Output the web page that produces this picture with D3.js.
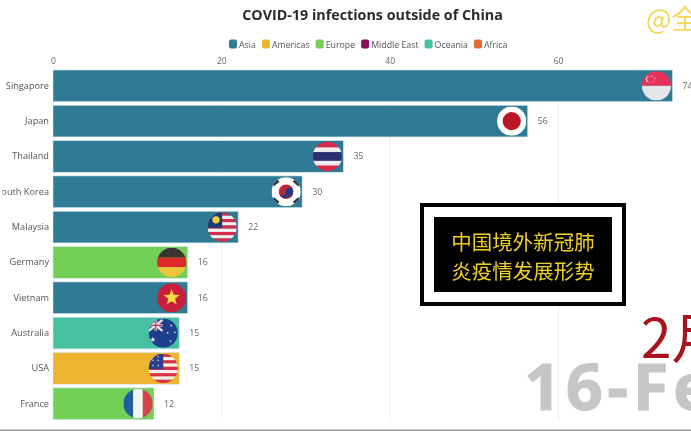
<!DOCTYPE html>
<html>
<head>
<meta charset="utf-8">
<script src="https://cdn.jsdelivr.net/npm/d3@7"></script>
<style>
html,body{margin:0;padding:0;background:#fff;overflow:hidden}
svg{display:block;filter:blur(.35px)}
text{font-family:"Open Sans",sans-serif}
.cjk{font-family:"Noto Sans CJK SC",sans-serif}
</style>
</head>
<body>
<div id="chart"></div>
<script>
// values of the frame (bars are caught mid animation, labels are rounded)
var countries = ["Singapore","Japan","Thailand","South Korea","Malaysia","Germany","Vietnam","Australia","USA","France"];
var regionOf = ["Asia","Asia","Asia","Asia","Asia","Europe","Asia","Oceania","Americas","Europe"];
var values = [73.6,56.4,34.5,29.6,22,16,16,15,15,12];
var xTicks = [0,20,40,60];
var regions = ["Asia","Americas","Europe","Middle East","Oceania","Africa"];
var regionColors = ["#2f7a95","#ecb42f","#73cf56","#8c0f58","#46c1a1","#e2692d"];
var titleText = "COVID-19 infections outside of China";
var boxLines = ["中国境外新冠肺","炎疫情发展形势"];

var margin = {top: 70, right: 19, bottom: 12, left: 53},
    width = 691,
    height = 431;

var x = d3.scaleLinear().domain([0,60]).range([margin.left,558]);
var y = d3.scaleBand().domain(countries).range([margin.top,height-margin.bottom+.5]).paddingInner(0.105).paddingOuter(0);
var color = d3.scaleOrdinal().domain(regions).range(regionColors);

var svg = d3.select("#chart").append("svg").attr("width",width).attr("height",height);
var defs = svg.append("defs");

//title
svg.append("text").attr("x",372.5).attr("y",19.5).attr("text-anchor","middle")
    .style("font-size","14.3px").style("font-weight",700).attr("fill","#2b2b2b").text(titleText);

//legend, laid out from the measured text
var lx = 229;
regions.forEach(function(r){
    svg.append("rect").attr("x",lx).attr("y",39.5).attr("width",8).attr("height",9).attr("rx",2).attr("fill",color(r));
    var t = svg.append("text").attr("x",lx+10).attr("y",47.5).style("font-size","8.8px").attr("fill","#555").text(r);
    lx += 10 + t.node().getComputedTextLength() + 6;
});

//grid and ticks
var xAxis = d3.axisTop(x).tickValues(xTicks).tickSize(-(height-margin.bottom-margin.top)).tickPadding(5).tickFormat(d3.format("d"));
var axis = svg.append("g").attr("transform","translate(0,"+margin.top+")").call(xAxis);
axis.select(".domain").remove();
axis.selectAll("line").attr("stroke","#eeeef0").attr("stroke-width",1);
axis.selectAll("text").attr("y",-6).attr("fill","#666").style("font-size","8.5px");

//bars
svg.selectAll(".bar").data(countries).enter().append("rect")
    .attr("class","bar")
    .attr("x",x(0))
    .attr("y",function(d){return y(d);})
    .attr("width",function(d,i){return x(values[i])-x(0);})
    .attr("height",y.bandwidth())
    .attr("fill",function(d,i){return color(regionOf[i]);})
    .attr("stroke","#cfe6ea").attr("stroke-width",.6);

//country names, the video crop cuts the left edge
defs.append("clipPath").attr("id","nameclip").append("rect")
    .attr("x",2.5).attr("y",0).attr("width",60).attr("height",height);
svg.append("g").attr("clip-path","url(#nameclip)")
    .selectAll(".name").data(countries).enter().append("text")
    .attr("class","name").attr("x",49)
    .attr("y",function(d){return y(d)+y.bandwidth()/2+3;})
    .attr("text-anchor","end").style("font-size","9.2px").attr("fill","#555")
    .text(function(d){return d;});

//value labels
svg.selectAll(".val").data(values).enter().append("text")
    .attr("class","val")
    .attr("x",function(d){return x(d)+10;})
    .attr("y",function(d,i){return y(countries[i])+y.bandwidth()/2+3;})
    .style("font-size","8.8px").attr("fill","#666")
    .text(d3.format(".0f"));

//flags are drawn in a box -1..1 and clipped to a circle
var R = 14.6;
function band(g,y0,y1,c,x0,x1){
    if(x0===undefined){x0=-1;x1=1;}
    g.append("rect").attr("x",x0).attr("y",y0).attr("width",x1-x0).attr("height",y1-y0).attr("fill",c);
}
function stripes(g,n,a,b,x0,x1){
    for(var i=0;i<n;i++) band(g,-1+2*i/n,-1+2*(i+1)/n,i%2?b:a,x0,x1);
}
function star(g,cx,cy,r,c){
    var pts=d3.range(10).map(function(i){
        var a=i*Math.PI/5-Math.PI/2, q=i%2?r*.42:r;
        return [cx+q*Math.cos(a),cy+q*Math.sin(a)];
    });
    g.append("polygon").attr("points",pts.join(" ")).attr("fill",c);
}
var flags = {
    "Singapore":function(g){
        band(g,-1,0,"#e8305a");band(g,0,1,"#e4e6ea");
        g.append("circle").attr("cx",-.52).attr("cy",-.45).attr("r",.22).attr("fill","#f7b5c4");
        g.append("circle").attr("cx",-.44).attr("cy",-.45).attr("r",.2).attr("fill","#e8305a");
        [[-.3,-.65],[-.12,-.52],[-.2,-.3]].forEach(function(p){star(g,p[0],p[1],.07,"#f7c5d0");});
    },
    "Japan":function(g){
        band(g,-1,1,"#ffffff");
        g.append("circle").attr("r",.62).attr("fill","#bb1425");
    },
    "South Korea":function(g){
        band(g,-1,1,"#ffffff");
        g.append("circle").attr("r",.5).attr("fill","#c5203a");
        g.append("path").attr("d","M-.48,.1 A.25,.25 0 0 0 0,.05 A.25,.25 0 0 1 .48,-.1 A.5,.5 0 0 1 -.48,.1Z").attr("fill","#1a3b85");
        [[-.72,-.62,-40],[.72,-.62,40],[-.72,.62,40],[.72,.62,-40]].forEach(function(p){
            g.append("rect").attr("x",p[0]-.24).attr("y",p[1]-.12).attr("width",.48).attr("height",.24)
                .attr("transform","rotate("+p[2]+" "+p[0]+" "+p[1]+")").attr("fill","#333");
        });
    },
    "Thailand":function(g){
        band(g,-1,1,"#d9294a");band(g,-.62,.62,"#eeeef2");band(g,-.3,.3,"#2b2f72");
    },
    "Malaysia":function(g){
        stripes(g,9,"#d62f4a","#f3f0f0");
        band(g,-1,.05,"#1f3a78",-1,0);
        g.append("circle").attr("cx",-.42).attr("cy",-.5).attr("r",.25).attr("fill","#f0d040");
    },
    "Germany":function(g){
        band(g,-1,-.33,"#3a3533");band(g,-.33,.33,"#dd2a2a");band(g,.33,1,"#eec53a");
    },
    "Vietnam":function(g){
        band(g,-1,1,"#c8203a");
        star(g,0,0,.58,"#f6d840");
    },
    "Australia":function(g){
        band(g,-1,1,"#1f3f8c");
        g.append("path").attr("d","M-1,-.9L-.05,-.15M-.05,-.9L-1,-.15").attr("stroke","#e8e4ea").attr("stroke-width",.16);
        band(g,-.9,-.15,"#e8e4ea",-.6,-.42);
        band(g,-.62,-.44,"#e8e4ea",-1,-.05);
        band(g,-.9,-.15,"#c8304a",-.55,-.47);
        band(g,-.57,-.49,"#c8304a",-1,-.05);
        star(g,-.72,.45,.2,"#f2f2f2");
        [[.55,-.5],[.3,0],[.8,-.05],[.5,.55]].forEach(function(p){star(g,p[0],p[1],.09,"#f2f2f2");});
    },
    "USA":function(g){
        stripes(g,9,"#d6304a","#f3f0f0");
        band(g,-1,.05,"#2a3f8c",-1,0);
        [[-.7,-.55],[-.35,-.55],[-.7,-.2],[-.35,-.2],[-.35,-.8]].forEach(function(p){
            g.append("circle").attr("cx",p[0]).attr("cy",p[1]).attr("r",.05).attr("fill","#f3f0f0");
        });
    },
    "France":function(g){
        band(g,-1,1,"#1f5f9e",-1,-.33);band(g,-1,1,"#f2f4f6",-.33,.33);band(g,-1,1,"#d8404a",.33,1);
    }
};

defs.append("clipPath").attr("id","flagclip").append("circle").attr("r",1);
countries.forEach(function(c,i){
    var g = svg.append("g")
        .attr("transform","translate("+(x(values[i])-16)+","+(y(c)+y.bandwidth()/2)+") scale("+R+")")
        .attr("clip-path","url(#flagclip)");
    flags[c](g);
});

//boxed caption
svg.append("rect").attr("x",422).attr("y",205).attr("width",202).attr("height",99)
    .attr("fill","#fff").attr("stroke","#000").attr("stroke-width",4);
svg.append("rect").attr("x",434).attr("y",217).attr("width",178).attr("height",75).attr("fill","#000");
boxLines.forEach(function(s,i){
    svg.append("text").attr("class","cjk").attr("x",523).attr("y",249.5+i*29.5)
        .attr("text-anchor","middle").style("font-size","20.5px").attr("fill","#f0d020").text(s);
});

//date overlays and watermark from the video
svg.append("text").attr("class","cjk").attr("x",641).attr("y",358)
    .style("font-size","55px").attr("fill","#a8141e").text("2月");
svg.append("text").attr("x",524).attr("y",410)
    .style("font-size","65px").style("font-weight",700).style("letter-spacing","4.5px")
    .attr("fill","#c6c6c8").attr("stroke","#c6c6c8").attr("stroke-width",1).text("16-Feb");
svg.append("text").attr("class","cjk").attr("x",646).attr("y",29)
    .style("font-size","27px").attr("fill","#f5d85a").text("@全");

//line at the bottom edge
svg.append("rect").attr("x",0).attr("y",429.5).attr("width",width).attr("height",1.5).attr("fill","#999");
</script>
</body>
</html>
